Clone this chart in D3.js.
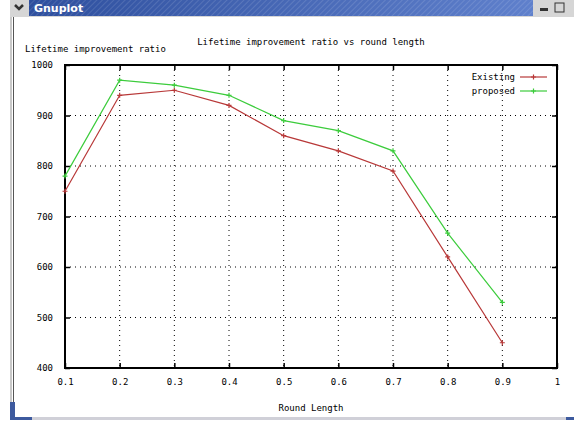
<!DOCTYPE html>
<meta charset="utf-8">
<style>
  body { margin: 0; background: #fff; }
  text { font-family: "DejaVu Sans Mono", monospace; font-size: 9px; fill: #000; }
</style>
<body>
<svg width="574" height="422"></svg>
<script src="https://cdnjs.cloudflare.com/ajax/libs/d3/7.8.5/d3.min.js"></script>
<script>

var roundLength = [0.1, 0.2, 0.3, 0.4, 0.5, 0.6, 0.7, 0.8, 0.9];
var existing = [750, 940, 950, 920, 860, 830, 790, 620, 450];
var proposed = [780, 970, 960, 940, 890, 870, 830, 667, 530];
var xTicks = [0.1, 0.2, 0.3, 0.4, 0.5, 0.6, 0.7, 0.8, 0.9, 1];
var yTicks = [400, 500, 600, 700, 800, 900, 1000];

var svg = d3.select("svg");

// window frame (title bar + borders)
var defs = svg.append("defs");
var grad = defs.append("linearGradient").attr("id", "bar").attr("x1", 0).attr("x2", 1);
grad.append("stop").attr("offset", "0%").attr("stop-color", "#2e4f9e");
grad.append("stop").attr("offset", "100%").attr("stop-color", "#5f80cc");
var pat = defs.append("pattern").attr("id", "hatch").attr("width", 4).attr("height", 4)
  .attr("patternUnits", "userSpaceOnUse").attr("patternTransform", "rotate(45)");
pat.append("rect").attr("width", 1).attr("height", 4).attr("fill", "rgba(255,255,255,0.12)");

svg.append("rect").attr("x", 10).attr("y", 0).attr("width", 564).attr("height", 17).attr("fill", "#d6d6d6");
svg.append("rect").attr("x", 29).attr("y", 0).attr("width", 504).attr("height", 16).attr("fill", "url(#bar)");
svg.append("rect").attr("x", 29).attr("y", 0).attr("width", 504).attr("height", 16).attr("fill", "url(#hatch)");
svg.append("path").attr("d", "M15,5 L19,9 L23,5").attr("fill", "none").attr("stroke", "#333").attr("stroke-width", 2.5);
svg.append("text").attr("x", 34).attr("y", 12).text("Gnuplot")
  .style("font-family", "'DejaVu Sans', sans-serif").style("font-size", "11px")
  .style("font-weight", "bold").style("fill", "#fff");
svg.append("rect").attr("x", 540).attr("y", 8).attr("width", 8).attr("height", 3).attr("fill", "#333");
svg.append("rect").attr("x", 555).attr("y", 3).attr("width", 9).attr("height", 9).attr("fill", "none").attr("stroke", "#333");
svg.append("rect").attr("x", 10).attr("y", 17).attr("width", 2).attr("height", 402).attr("fill", "#c8c8c8");
svg.append("rect").attr("x", 13).attr("y", 17).attr("width", 1).attr("height", 402).attr("fill", "#555");
svg.append("rect").attr("x", 10).attr("y", 402).attr("width", 5).attr("height", 17).attr("fill", "#3d5a9e");
svg.append("rect").attr("x", 10).attr("y", 417).attr("width", 564).attr("height", 3).attr("fill", "#d0d0d8");
svg.append("rect").attr("x", 10).attr("y", 417).attr("width", 22).attr("height", 3).attr("fill", "#3d5a9e");
svg.append("rect").attr("x", 566).attr("y", 417).attr("width", 8).attr("height", 3).attr("fill", "#3d5a9e");

// plot area
var pLeft = 65, pRight = 557, pTop = 65, pBottom = 368;
var x = d3.scaleLinear().domain([0.1, 1]).range([pLeft, pRight]);
var y = d3.scaleLinear().domain([400, 1000]).range([pBottom, pTop]);

var g = svg.append("g");

// dotted grid
g.selectAll(".vgrid").data(xTicks.slice(1, -1)).enter().append("line")
  .attr("x1", d => x(d)).attr("x2", d => x(d)).attr("y1", pTop).attr("y2", pBottom)
  .attr("stroke", "#000").attr("stroke-width", 1).attr("stroke-dasharray", "1,4");
g.selectAll(".hgrid").data(yTicks.slice(1, -1)).enter().append("line")
  .attr("x1", pLeft).attr("x2", pRight).attr("y1", d => y(d)).attr("y2", d => y(d))
  .attr("stroke", "#000").attr("stroke-width", 1).attr("stroke-dasharray", "1,4");

// axes, ticks inward and mirrored
g.append("g").attr("transform", "translate(0," + pBottom + ")")
  .call(d3.axisBottom(x).tickValues(xTicks).tickSize(-5).tickPadding(11).tickFormat(d3.format("")))
  .call(a => a.select(".domain").remove());
g.append("g").attr("transform", "translate(0," + pTop + ")")
  .call(d3.axisTop(x).tickValues(xTicks).tickSize(-5).tickFormat(""))
  .call(a => a.select(".domain").remove());
g.append("g").attr("transform", "translate(" + pLeft + ",0)")
  .call(d3.axisLeft(y).tickValues(yTicks).tickSize(-5).tickPadding(12).tickFormat(d3.format("d")))
  .call(a => a.select(".domain").remove());
g.append("g").attr("transform", "translate(" + pRight + ",0)")
  .call(d3.axisRight(y).tickValues(yTicks).tickSize(-5).tickFormat(""))
  .call(a => a.select(".domain").remove());
g.selectAll(".tick line").attr("stroke", "#000").attr("stroke-width", 1.5);
g.selectAll(".tick text").style("font-family", "'DejaVu Sans Mono', monospace").style("font-size", "9px").attr("fill", "#000");

g.append("rect").attr("x", pLeft).attr("y", pTop).attr("width", pRight - pLeft).attr("height", pBottom - pTop)
  .attr("fill", "none").attr("stroke", "#000").attr("stroke-width", 2);

// series
var series = [
  {name: "Existing", values: existing, color: "#b83838"},
  {name: "proposed", values: proposed, color: "#3ccc3c"}
];
var line = d3.line().x((d, i) => x(roundLength[i])).y(d => y(d));

series.forEach(function(s, k) {
  g.append("path").attr("d", line(s.values)).attr("fill", "none")
    .attr("stroke", s.color).attr("stroke-width", 1.2);
  g.selectAll(".pt" + k).data(s.values).enter().append("path")
    .attr("d", (d, i) => "M" + (x(roundLength[i]) - 2.5) + "," + y(d) + "h5M" + x(roundLength[i]) + "," + (y(d) - 2.5) + "v5")
    .attr("stroke", s.color).attr("stroke-width", 1.2);

  var ly = 77 + k * 14;
  g.append("text").attr("x", 515).attr("y", ly).attr("dy", "0.35em").attr("text-anchor", "end").text(s.name);
  g.append("line").attr("x1", 520).attr("x2", 547).attr("y1", ly).attr("y2", ly)
    .attr("stroke", s.color).attr("stroke-width", 1.2);
  g.append("path").attr("d", "M531," + ly + "h5M533.5," + (ly - 2.5) + "v5")
    .attr("stroke", s.color).attr("stroke-width", 1.2);
});

// titles
svg.append("text").attr("x", (pLeft + pRight) / 2).attr("y", 45).attr("text-anchor", "middle")
  .text("Lifetime improvement ratio vs round length");
svg.append("text").attr("x", 25).attr("y", 52).text("Lifetime improvement ratio");
svg.append("text").attr("x", (pLeft + pRight) / 2).attr("y", 411).attr("text-anchor", "middle").text("Round Length");

</script>
</body>
